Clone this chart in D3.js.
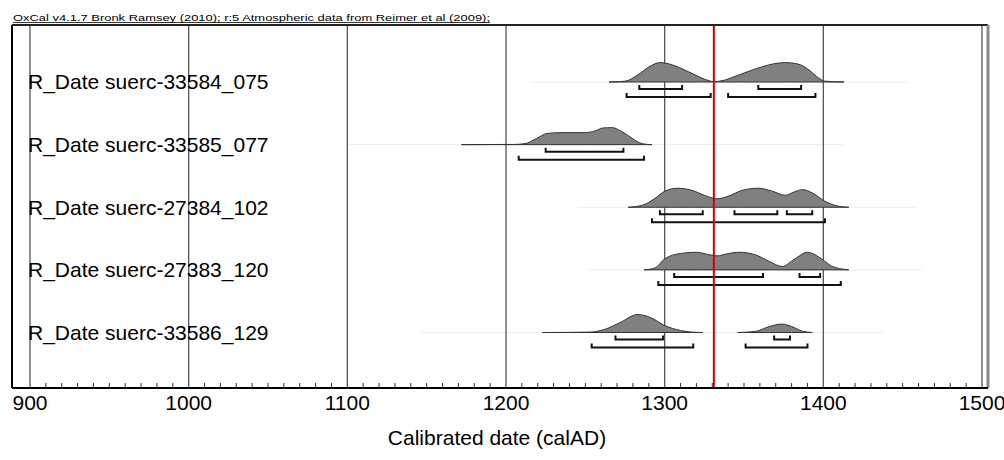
<!DOCTYPE html>
<html>
<head>
<meta charset="utf-8">
<script src="https://cdn.jsdelivr.net/npm/d3@7"></script>
<style>
  body { margin: 0; background: #fff; }
  text { font-family: "Liberation Sans", Arial, sans-serif; }
</style>
</head>
<body>
<div id="chart"></div>
<script>
// samples
const labels = ["R_Date suerc-33584_075", "R_Date suerc-33585_077", "R_Date suerc-27384_102",
                "R_Date suerc-27383_120", "R_Date suerc-33586_129"];

// probability density, [calAD, relative height], split into segments
const dens075 = [[[1265,0],[1275,0.04],[1283,0.35],[1290,0.75],[1297,0.97],[1305,0.85],[1314,0.55],[1322,0.25],[1328,0.06],[1331,0.02],[1336,0.06],[1345,0.3],[1356,0.62],[1367,0.88],[1376,0.97],[1384,0.9],[1391,0.6],[1397,0.2],[1401,0.04],[1413,0]]];
const dens077 = [[[1172,0],[1205,0.01],[1212,0.05],[1219,0.3],[1226,0.56],[1234,0.6],[1250,0.6],[1256,0.68],[1261,0.83],[1267,0.85],[1272,0.7],[1278,0.4],[1284,0.1],[1288,0.02],[1292,0]]];
const dens102 = [[[1277,0],[1286,0.1],[1294,0.45],[1300,0.8],[1308,0.95],[1317,0.85],[1325,0.6],[1333,0.42],[1340,0.55],[1349,0.85],[1359,0.95],[1368,0.8],[1376,0.6],[1382,0.78],[1387,0.88],[1393,0.72],[1401,0.3],[1408,0.08],[1416,0]]];
const dens120 = [[[1287,0],[1294,0.1],[1300,0.55],[1310,0.82],[1320,0.88],[1328,0.76],[1333,0.7],[1339,0.8],[1347,0.88],[1357,0.76],[1366,0.42],[1374,0.17],[1382,0.55],[1390,0.88],[1398,0.6],[1405,0.2],[1412,0.04],[1416,0]]];
const dens129 = [[[1223,0],[1253,0.02],[1262,0.15],[1272,0.5],[1283,0.9],[1291,0.75],[1300,0.35],[1310,0.1],[1317,0.02],[1324,0]],
                 [[1346,0],[1357,0.05],[1366,0.3],[1374,0.42],[1380,0.3],[1387,0.06],[1393,0]]];
const densities = [dens075, dens077, dens102, dens120, dens129];

// 68.2% and 95.4% ranges
const range68 = [[[1284,1311],[1359,1386]], [[1225,1274]], [[1297,1324],[1344,1371],[1377,1393]],
                 [[1306,1362],[1385,1398]], [[1269,1299],[1369,1379]]];
const range95 = [[[1276,1329],[1340,1395]], [[1208,1287]], [[1292,1401]], [[1296,1411]],
                 [[1254,1318],[1351,1390]]];

// faint full calibration span
const fullSpan = [[1215,1453],[1100,1412],[1245,1458],[1252,1462],[1146,1438]];

const xTicks = [900, 1000, 1100, 1200, 1300, 1400, 1500];
const markerYear = 1331;
const header = "OxCal v4.1.7 Bronk Ramsey (2010); r:5 Atmospheric data from Reimer et al (2009);";
const xTitle = "Calibrated date (calAD)";

const width = 1004, height = 460;
const frame = { left: 12, top: 25, right: 988, bottom: 388 };

const svg = d3.select("#chart").append("svg")
    .attr("width", width)
    .attr("height", height);

const x = d3.scaleLinear().domain([900, 1500]).range([30, 982]);
const y = d3.scalePoint().domain(labels).range([82, 332.5]);
const h = d3.scaleLinear().domain([0, 1]).range([0, 20]);

// header
svg.append("text")
    .attr("x", 13).attr("y", 21)
    .attr("textLength", 477).attr("lengthAdjust", "spacingAndGlyphs")
    .style("font-size", "9px")
    .text(header);
svg.append("line")
    .attr("x1", 13).attr("x2", 490).attr("y1", 22.5).attr("y2", 22.5)
    .attr("stroke", "#000").attr("stroke-width", 0.8);

// faint spans
svg.selectAll(".span")
    .data(fullSpan)
    .enter().append("line")
    .attr("x1", d => x(d[0])).attr("x2", d => x(d[1]))
    .attr("y1", (d, i) => y(labels[i])).attr("y2", (d, i) => y(labels[i]))
    .attr("stroke", "#ececec").attr("stroke-width", 1);

// grid lines
svg.selectAll(".grid")
    .data(xTicks)
    .enter().append("line")
    .attr("x1", d => x(d)).attr("x2", d => x(d))
    .attr("y1", frame.top).attr("y2", frame.bottom)
    .attr("stroke", "#555").attr("stroke-width", 1.3);

// densities
const area = d3.area()
    .x(d => x(d[0]))
    .y0(0)
    .y1(d => -h(d[1]))
    .curve(d3.curveMonotoneX);

densities.forEach((segs, i) => {
    const g = svg.append("g").attr("transform", `translate(0,${y(labels[i])})`);
    g.selectAll("path")
        .data(segs)
        .enter().append("path")
        .attr("d", area)
        .attr("fill", "#808080")
        .attr("stroke", "#333")
        .attr("stroke-width", 1);
});

// range brackets
function bracket(x0, x1, yy) {
    return `M${x0},${yy - 4}V${yy}H${x1}V${yy - 4}`;
}
[[range68, 7], [range95, 15]].forEach(([ranges, off]) => {
    ranges.forEach((rs, i) => {
        svg.selectAll(null)
            .data(rs)
            .enter().append("path")
            .attr("d", d => bracket(x(d[0]), x(d[1]), y(labels[i]) + off))
            .attr("fill", "none")
            .attr("stroke", "#111")
            .attr("stroke-width", 2);
    });
});

// marker line
svg.append("line")
    .attr("x1", x(markerYear)).attr("x2", x(markerYear))
    .attr("y1", frame.top).attr("y2", frame.bottom)
    .attr("stroke", "#d40000").attr("stroke-width", 2);

// labels
svg.selectAll(".lab")
    .data(labels)
    .enter().append("text")
    .attr("x", 28)
    .attr("y", d => y(d))
    .attr("dy", "0.35em")
    .style("font-size", "21px")
    .text(d => d);

// frame
svg.append("line")
    .attr("x1", frame.left).attr("x2", frame.right)
    .attr("y1", frame.top).attr("y2", frame.top)
    .attr("stroke", "#222").attr("stroke-width", 2);
svg.append("line")
    .attr("x1", frame.left).attr("x2", frame.left)
    .attr("y1", frame.top).attr("y2", frame.bottom)
    .attr("stroke", "#000").attr("stroke-width", 2);
svg.append("line")
    .attr("x1", frame.right).attr("x2", frame.right)
    .attr("y1", frame.top).attr("y2", frame.bottom)
    .attr("stroke", "#888").attr("stroke-width", 3);

// x axis
const axis = svg.append("g")
    .attr("transform", `translate(0,${frame.bottom})`);
axis.append("line")
    .attr("x1", frame.left).attr("x2", frame.right)
    .attr("stroke", "#000").attr("stroke-width", 2);
axis.selectAll(".minor")
    .data(d3.range(900, 1501, 10).filter(v => v % 100 !== 0))
    .enter().append("line")
    .attr("x1", d => x(d)).attr("x2", d => x(d))
    .attr("y1", 0).attr("y2", -5)
    .attr("stroke", "#333").attr("stroke-width", 1);
axis.selectAll(".tl")
    .data(xTicks)
    .enter().append("text")
    .attr("x", d => x(d))
    .attr("y", 22)
    .attr("text-anchor", "middle")
    .style("font-size", "21px")
    .text(d => d);

svg.append("text")
    .attr("x", 497).attr("y", 445)
    .attr("text-anchor", "middle")
    .style("font-size", "21px")
    .text(xTitle);
</script>
</body>
</html>
